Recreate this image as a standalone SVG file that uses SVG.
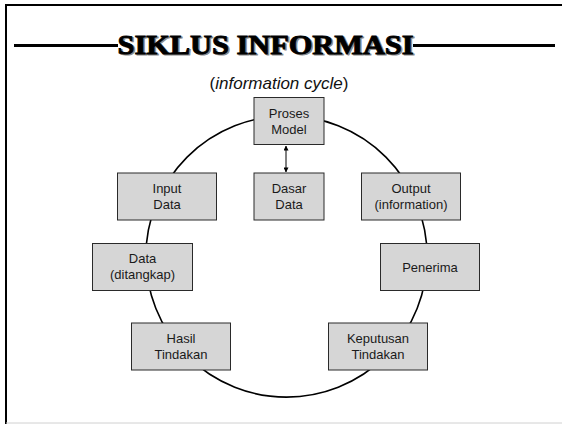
<svg xmlns="http://www.w3.org/2000/svg" width="562" height="424" viewBox="0 0 562 424">
  <style>
    .node rect { fill: #d6d6d6; stroke: #2a2a2a; stroke-width: 1; }
    .node text { font-family: "Liberation Sans", Arial, sans-serif; font-size: 13px; fill: #1a1a1a; text-anchor: middle; }
    .title { font-family: "Liberation Serif", "Times New Roman", serif; font-weight: bold; font-size: 27px; text-anchor: middle; stroke-width: 0.9; }
    .sub { font-family: "Liberation Sans", Arial, sans-serif; font-size: 17px; fill: #111; text-anchor: middle; }
    .rule { stroke: #000; stroke-width: 3; }
  </style>
  <defs>
    <marker id="tip" viewBox="0 0 6 6" refX="5.5" refY="3" markerWidth="5" markerHeight="5" orient="auto-start-reverse">
      <path d="M0,0 L6,3 L0,6 z" fill="#000"/>
    </marker>
  </defs>

  <rect width="562" height="424" fill="#fff"/>
  <!-- page frame -->
  <path d="M6,424 V5 H562" fill="none" stroke="#000" stroke-width="2"/>
  <line x1="6" y1="423" x2="562" y2="423" stroke="#d0d0d0" stroke-width="1"/>

  <!-- heading -->
  <g id="heading">
    <line class="rule" x1="14" y1="45.5" x2="118" y2="45.5"/>
    <line class="rule" x1="413" y1="45.5" x2="555" y2="45.5"/>
    <text class="title" x="267" y="55" fill="#8a8a8a" stroke="#8a8a8a" textLength="296" lengthAdjust="spacingAndGlyphs">SIKLUS INFORMASI</text>
    <text class="title" x="265.5" y="53.5" fill="#000" stroke="#000" textLength="296" lengthAdjust="spacingAndGlyphs">SIKLUS INFORMASI</text>
    <text class="sub" x="279" y="89">(<tspan font-style="italic">information cycle</tspan>)</text>
  </g>

  <!-- connectors -->
  <g id="connectors" fill="none" stroke="#000">
    <circle cx="286.5" cy="256.5" r="140.6" stroke-width="1.6"/>
    <line x1="286" y1="146" x2="286" y2="172" stroke-width="1" marker-start="url(#tip)" marker-end="url(#tip)"/>
  </g>

  <!-- nodes -->
  <g id="proses-model" class="node">
    <rect x="254" y="97.5" width="70" height="47"/>
    <text x="289" y="118">Proses</text>
    <text x="289" y="134">Model</text>
  </g>
  <g id="dasar-data" class="node">
    <rect x="254" y="173" width="70" height="47"/>
    <text x="289" y="193">Dasar</text>
    <text x="289" y="209">Data</text>
  </g>
  <g id="input-data" class="node">
    <rect x="117.5" y="173" width="99" height="47"/>
    <text x="167" y="193">Input</text>
    <text x="167" y="209">Data</text>
  </g>
  <g id="output" class="node">
    <rect x="361.5" y="173" width="99" height="47"/>
    <text x="411" y="193">Output</text>
    <text x="411" y="209">(information)</text>
  </g>
  <g id="data-ditangkap" class="node">
    <rect x="92.5" y="243.5" width="100" height="47"/>
    <text x="142.5" y="263">Data</text>
    <text x="142.5" y="279">(ditangkap)</text>
  </g>
  <g id="penerima" class="node">
    <rect x="380.5" y="243.5" width="99" height="47"/>
    <text x="430" y="272">Penerima</text>
  </g>
  <g id="hasil-tindakan" class="node">
    <rect x="131.5" y="323" width="99" height="47"/>
    <text x="181" y="343">Hasil</text>
    <text x="181" y="359">Tindakan</text>
  </g>
  <g id="keputusan-tindakan" class="node">
    <rect x="328.5" y="323" width="99" height="47"/>
    <text x="378" y="343">Keputusan</text>
    <text x="378" y="359">Tindakan</text>
  </g>
</svg>
